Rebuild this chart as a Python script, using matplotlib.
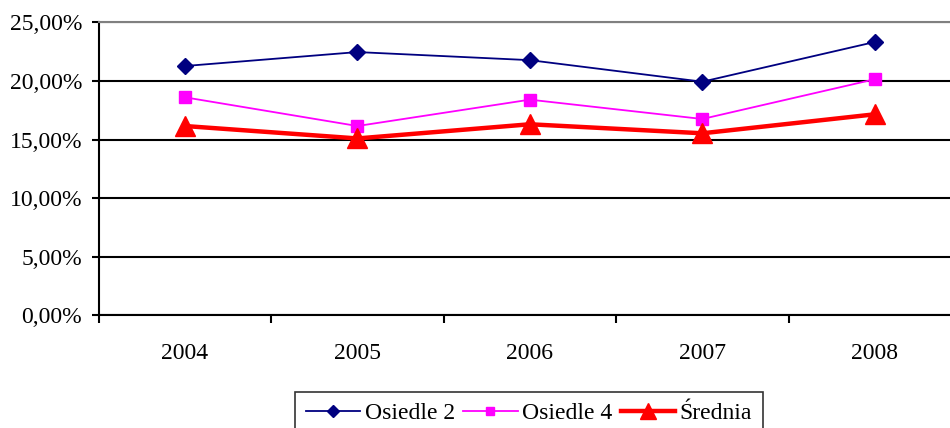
import matplotlib
matplotlib.use("Agg")
import matplotlib.pyplot as plt
import matplotlib.ticker as mticker

years = ["2004", "2005", "2006", "2007", "2008"]
osiedle2 = [21.27, 22.46, 21.77, 19.93, 23.32]
osiedle4 = [18.60, 16.15, 18.40, 16.75, 20.14]
srednia = [16.15, 15.09, 16.30, 15.53, 17.15]
y_ticks = [0, 5, 10, 15, 20, 25]

plt.rcParams['font.family'] = ['Liberation Serif', 'DejaVu Serif']

fig = plt.figure(figsize=(9.5, 4.28), dpi=100)
ax = fig.add_axes([0.1039, 0.2633, 0.9077, 0.6846])

x = list(range(len(years)))

# gridlines
for t in y_ticks:
    ax.axhline(t, color='black', linewidth=1.5, zorder=1)

ax.plot(x, osiedle2, color='#000080', linewidth=1.3, marker='D', markersize=8,
        label='Osiedle 2', zorder=3, clip_on=False)
ax.plot(x, osiedle4, color='#ff00ff', linewidth=1.3, marker='s', markersize=8.5,
        label='Osiedle 4', zorder=3, clip_on=False)
ax.plot(x, srednia, color='#ff0000', linewidth=3.2, marker='^', markersize=15,
        label='Średnia', zorder=4, clip_on=False)

ax.set_xlim(-0.5, len(years) - 0.5)
ax.set_ylim(0, 25)

ax.set_yticks(y_ticks)
ax.yaxis.set_major_formatter(mticker.FuncFormatter(lambda v, _: f'{v:.2f}'.replace('.', ',') + '%'))
ax.tick_params(axis='y', direction='out', length=5, width=1.5, labelsize=17, pad=7)

ax.set_xticks(x)
ax.set_xticklabels(years)
ax.set_xticks([i + 0.5 for i in range(-1, len(years))], minor=True)
ax.tick_params(axis='x', which='major', length=0, labelsize=17, pad=20)
ax.tick_params(axis='x', which='minor', direction='out', length=6, width=1.5)

ax.spines['left'].set_linewidth(1.5)
ax.spines['bottom'].set_linewidth(1.5)
ax.spines['top'].set_color('#808080')
ax.spines['top'].set_linewidth(1.5)
ax.spines['right'].set_visible(False)

leg = fig.legend(loc='upper center', bbox_to_anchor=(529 / 950, 1 - 392 / 428),
                 ncol=3, fontsize=17, frameon=True, fancybox=False,
                 edgecolor='black', handlelength=2.3, columnspacing=0.35,
                 handletextpad=0.2, borderpad=0.45, borderaxespad=0,
                 markerscale=0.75)
leg.get_frame().set_linewidth(1.2)

fig.savefig("out.png", dpi=100)
